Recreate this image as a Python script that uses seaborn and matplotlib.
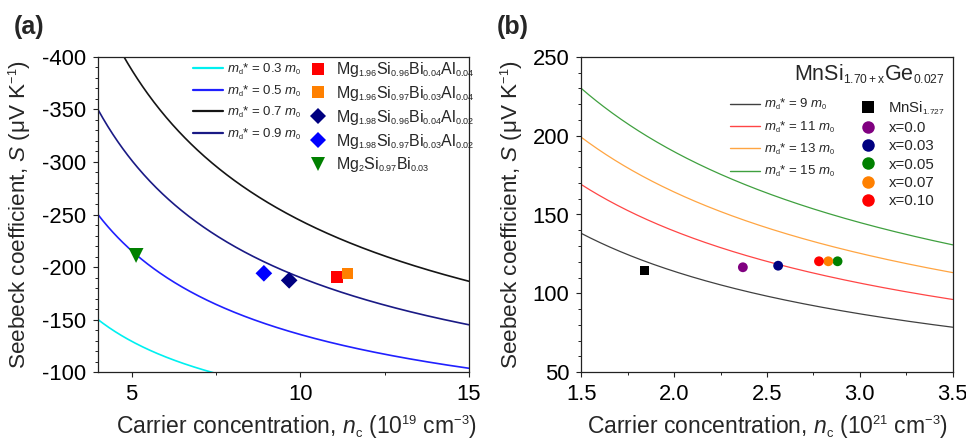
import numpy as np
import pandas as pd
import matplotlib
matplotlib.use("Agg")
import matplotlib.pyplot as plt
import matplotlib._mathtext as mathtext_engine
from matplotlib.lines import Line2D
from matplotlib.ticker import MultipleLocator
import seaborn as sns

# ---------------- panel (a): Mg2Si-based samples ----------------
a_mass = [0.3, 0.5, 0.7, 0.9]                 # m_d* / m_0
a_S_ref = [-150, -250, -450, -350]            # S (uV/K) of each model line at n_ref
a_n_ref = 4.0                                 # 10^19 cm^-3
a_line_colors = ["#00F0F0", "#2020FF", "#151515", "#1A1A85"]

a_samples = [
    r"Mg$_{1.96}$Si$_{0.96}$Bi$_{0.04}$Al$_{0.04}$",
    r"Mg$_{1.96}$Si$_{0.97}$Bi$_{0.03}$Al$_{0.04}$",
    r"Mg$_{1.98}$Si$_{0.96}$Bi$_{0.04}$Al$_{0.02}$",
    r"Mg$_{1.98}$Si$_{0.97}$Bi$_{0.03}$Al$_{0.02}$",
    r"Mg$_{2}$Si$_{0.97}$Bi$_{0.03}$",
]
a_n = [11.09, 11.39, 9.67, 8.92, 5.13]
a_S = [-190.5, -193.6, -187.3, -194.0, -211.0]
a_markers = ["s", "s", "D", "D", "v"]
a_sizes = [64, 64, 72, 72, 115]
a_colors = ["#FF0000", "#FF8000", "#000080", "#0000FF", "#008000"]

# ---------------- panel (b): higher manganese silicides ----------------
b_mass = [9, 11, 13, 15]
b_S_ref = [138, 169, 199, 230]                # S (uV/K) at n_ref
b_n_ref = 1.5                                 # 10^21 cm^-3
b_line_colors = ["#404040", "#FF4545", "#FFA542", "#3FA03F"]

b_samples = [r"MnSi$_{1.727}$", "x=0.0", "x=0.03", "x=0.05", "x=0.07", "x=0.10"]
b_n = [1.84, 2.37, 2.56, 2.88, 2.83, 2.78]
b_S = [114.5, 116.5, 117.5, 120.3, 120.3, 120.3]
b_markers = ["s", "o", "o", "o", "o", "o"]
b_sizes = [38, 50, 50, 50, 50, 50]
b_colors = ["#000000", "#800080", "#000080", "#008000", "#FF8000", "#FF0000"]

sns.set_theme(style="ticks")
plt.rcParams.update({
    "font.family": ["Liberation Sans", "DejaVu Sans"],
    "mathtext.fontset": "custom",
    "mathtext.rm": "Liberation Sans",
    "mathtext.it": "Liberation Sans:italic",
    "mathtext.bf": "Liberation Sans:bold",
    "mathtext.default": "regular",
    "axes.unicode_minus": False,
    "axes.edgecolor": "#222222",
    "axes.linewidth": 0.9,
    "xtick.color": "#222222",
    "ytick.color": "#222222",
    "xtick.labelcolor": "black",
    "ytick.labelcolor": "black",
})
# smaller sub/superscripts for the chemical formulas and units
mathtext_engine.SHRINK_FACTOR = 0.56


def model_frame(n_lo, n_hi, masses, s_ref, n_ref):
    """Parabolic band, degenerate limit: S scales as n^(-2/3)."""
    n = np.linspace(n_lo, n_hi, 300)
    rows = []
    for m, s0 in zip(masses, s_ref):
        rows.append(pd.DataFrame({"n": n, "S": s0 * (n / n_ref) ** (-2.0 / 3.0), "m": m}))
    return pd.concat(rows, ignore_index=True)


def style_axis(ax):
    ax.tick_params(which="major", direction="out", length=3.5, width=0.8, labelsize=15.8, pad=5)
    ax.tick_params(which="minor", direction="out", length=2.2, width=0.7)
    for side in ("top", "right"):
        ax.spines[side].set_visible(True)


fig = plt.figure(figsize=(9.66, 4.40), dpi=100)
ax_a = fig.add_axes([0.1014, 0.1545, 0.384, 0.716])
ax_b = fig.add_axes([0.6018, 0.1545, 0.3844, 0.716])

ylabel = r"Seebeck coefficient, $\mathit{S}$ ($\mu$V K$^{-1}$)"

# ---- (a) model lines and data ----
df_a = model_frame(4, 15, a_mass, a_S_ref, a_n_ref)
sns.lineplot(data=df_a, x="n", y="S", hue="m", palette=dict(zip(a_mass, a_line_colors)),
             estimator=None, sort=False, linewidth=1.2, legend=False, ax=ax_a)
for i in range(len(a_n)):
    sns.scatterplot(x=[a_n[i]], y=[a_S[i]], marker=a_markers[i], s=a_sizes[i],
                    color=a_colors[i], edgecolor="none", legend=False, ax=ax_a, zorder=3)

ax_a.set_xlim(4, 15)
ax_a.set_ylim(-100, -400)
ax_a.set_xticks([5, 10, 15])
ax_a.xaxis.set_minor_locator(MultipleLocator(2.5))
ax_a.set_yticks(np.arange(-400, -99, 50))
ax_a.yaxis.set_minor_locator(MultipleLocator(10))
style_axis(ax_a)
ax_a.set_xlabel(r"Carrier concentration, $\mathit{n}_\mathrm{c}$ (10$^{19}$ cm$^{-3}$)", fontsize=16.5)
ax_a.set_ylabel(ylabel, fontsize=16.2)
ax_a.xaxis.set_label_coords(0.535, -0.13)
ax_a.yaxis.set_label_coords(-0.176, 0.5)

line_handles_a = [Line2D([], [], color=c, lw=1.6) for c in a_line_colors]
line_labels_a = [rf"$\mathit{{m}}_\mathrm{{d}}$* = {m} $\mathit{{m}}_\mathrm{{0}}$" for m in a_mass]
leg1 = ax_a.legend(line_handles_a, line_labels_a, loc="upper left", bbox_to_anchor=(0.255, 0.985),
                   frameon=False, fontsize=9.5, handlelength=2.3, handletextpad=0.3,
                   labelspacing=0.5, borderpad=0, borderaxespad=0)
ax_a.add_artist(leg1)
mark_handles_a = [Line2D([], [], ls="none", marker=mk, color=c, markersize=np.sqrt(s),
                         markeredgewidth=0)
                  for mk, c, s in zip(a_markers, a_colors, a_sizes)]
ax_a.legend(mark_handles_a, a_samples, loc="upper left", bbox_to_anchor=(0.573, 0.99),
            frameon=False, fontsize=11.5, handlelength=1.0, handletextpad=0.6,
            labelspacing=0.3, borderpad=0, borderaxespad=0)

# ---- (b) model lines and data ----
df_b = model_frame(1.5, 3.5, b_mass, b_S_ref, b_n_ref)
sns.lineplot(data=df_b, x="n", y="S", hue="m", palette=dict(zip(b_mass, b_line_colors)),
             estimator=None, sort=False, linewidth=0.9, legend=False, ax=ax_b)
for i in range(len(b_n)):
    sns.scatterplot(x=[b_n[i]], y=[b_S[i]], marker=b_markers[i], s=b_sizes[i],
                    color=b_colors[i], edgecolor="none", legend=False, ax=ax_b, zorder=3)

ax_b.set_xlim(1.5, 3.5)
ax_b.set_ylim(50, 250)
ax_b.set_xticks([1.5, 2.0, 2.5, 3.0, 3.5])
ax_b.xaxis.set_minor_locator(MultipleLocator(0.25))
ax_b.set_yticks(np.arange(50, 251, 50))
ax_b.yaxis.set_minor_locator(MultipleLocator(10))
style_axis(ax_b)
ax_b.set_xlabel(r"Carrier concentration, $\mathit{n}_\mathrm{c}$ (10$^{21}$ cm$^{-3}$)", fontsize=16.5)
ax_b.set_ylabel(ylabel, fontsize=16.2)
ax_b.xaxis.set_label_coords(0.5, -0.13)
ax_b.yaxis.set_label_coords(-0.152, 0.5)

ax_b.text(0.977, 0.925, r"MnSi$_{1.70+x}$Ge$_{0.027}$", transform=ax_b.transAxes,
          ha="right", va="baseline", fontsize=15.5)

line_handles_b = [Line2D([], [], color=c, lw=1.0) for c in b_line_colors]
line_labels_b = [rf"$\mathit{{m}}_\mathrm{{d}}$* = {m} $\mathit{{m}}_\mathrm{{0}}$" for m in b_mass]
leg3 = ax_b.legend(line_handles_b, line_labels_b, loc="upper left", bbox_to_anchor=(0.40, 0.872),
                   frameon=False, fontsize=9.5, handlelength=2.3, handletextpad=0.3,
                   labelspacing=0.55, borderpad=0, borderaxespad=0)
ax_b.add_artist(leg3)
mark_handles_b = [Line2D([], [], ls="none", marker=mk, color=c,
                         markersize=8.2 if mk == "s" else 9.0, markeredgewidth=0)
                  for mk, c in zip(b_markers, b_colors)]
ax_b.legend(mark_handles_b, b_samples, loc="upper left", bbox_to_anchor=(0.752, 0.866),
            frameon=False, fontsize=10.8, handlelength=1.0, handletextpad=0.85,
            labelspacing=0.29, borderpad=0, borderaxespad=0)

fig.text(0.014, 0.965, "(a)", fontsize=18, fontweight="bold", va="top", ha="left")
fig.text(0.514, 0.965, "(b)", fontsize=18, fontweight="bold", va="top", ha="left")

fig.savefig("out.png", dpi=100)
